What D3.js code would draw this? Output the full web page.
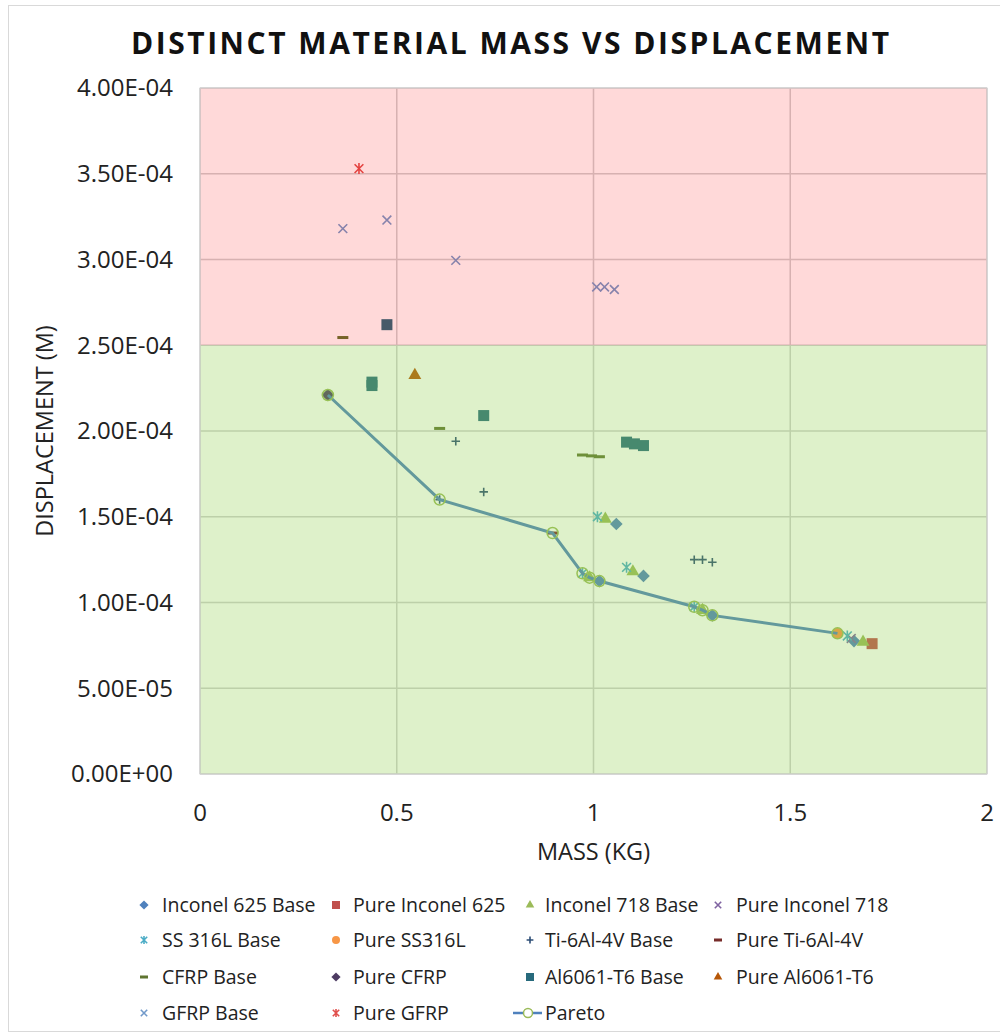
<!DOCTYPE html>
<html>
<head>
<meta charset="utf-8">
<script src="https://cdn.jsdelivr.net/npm/d3@7"></script>
<style>
  body { margin: 0; background: #fff; }
  svg { display: block; font-family: "Open Sans", sans-serif; }
</style>
</head>
<body>
<svg id="chart" width="1000" height="1033"></svg>
<script>
// values: [mass (kg), displacement (m)]
var inconel625Base = [[1.058, 1.458e-4], [1.127, 1.155e-4], [1.015, 1.125e-4], [1.302, 0.925e-4], [1.662, 0.775e-4]];
var pureInconel625 = [[1.708, 0.76e-4]];
var inconel718Base = [[1.030, 1.487e-4], [1.100, 1.18e-4], [0.990, 1.145e-4], [1.277, 0.955e-4], [1.685, 0.77e-4]];
var pureInconel718 = [[1.655, 0.79e-4]];
var ss316lBase = [[1.010, 1.50e-4], [1.084, 1.205e-4], [0.972, 1.17e-4], [1.256, 0.975e-4], [1.645, 0.805e-4]];
var pureSs316l = [[1.620, 0.82e-4]];
var tiBase = [[0.650, 1.94e-4], [0.721, 1.645e-4], [0.609, 1.60e-4], [1.256, 1.25e-4], [1.277, 1.25e-4], [1.302, 1.235e-4]];
var pureTi = [[0.896, 1.405e-4]];
var cfrpBase = [[0.363, 2.545e-4], [0.609, 2.015e-4], [0.972, 1.86e-4], [0.995, 1.855e-4], [1.015, 1.85e-4]];
var pureCfrp = [[0.325, 2.21e-4]];
var alBase = [[0.475, 2.62e-4], [0.437, 2.285e-4], [0.437, 2.265e-4], [0.721, 2.09e-4], [1.084, 1.935e-4], [1.104, 1.925e-4], [1.127, 1.915e-4]];
var pureAl = [[0.546, 2.325e-4]];
var gfrpBase = [[0.363, 3.18e-4], [0.475, 3.23e-4], [0.650, 2.995e-4], [1.008, 2.84e-4], [1.028, 2.84e-4], [1.053, 2.825e-4]];
var pureGfrp = [[0.404, 3.53e-4]];
var pareto = [[0.325, 2.21e-4], [0.609, 1.60e-4], [0.896, 1.405e-4], [0.972, 1.17e-4], [0.990, 1.145e-4], [1.015, 1.125e-4],
              [1.256, 0.975e-4], [1.277, 0.955e-4], [1.302, 0.925e-4], [1.620, 0.82e-4]];

var xTicks = [0, 0.5, 1, 1.5, 2];
var yTicks = [0, 0.5e-4, 1e-4, 1.5e-4, 2e-4, 2.5e-4, 3e-4, 3.5e-4, 4e-4];
var limit = 2.5e-4;

var series = [
    {name: "Inconel 625 Base", data: inconel625Base, shape: "diamond", color: "#4f81bd"},
    {name: "Pure Inconel 625", data: pureInconel625, shape: "square", color: "#c0504d"},
    {name: "Inconel 718 Base", data: inconel718Base, shape: "triangle", color: "#9bbb59"},
    {name: "Pure Inconel 718", data: pureInconel718, shape: "x", color: "#8064a2"},
    {name: "SS 316L Base", data: ss316lBase, shape: "star", color: "#4bacc6"},
    {name: "Pure SS316L", data: pureSs316l, shape: "circle", color: "#f79646"},
    {name: "Ti-6Al-4V Base", data: tiBase, shape: "plus", color: "#2c4d75"},
    {name: "Pure Ti-6Al-4V", data: pureTi, shape: "dash", color: "#772c2a"},
    {name: "CFRP Base", data: cfrpBase, shape: "dash", color: "#5f7530"},
    {name: "Pure CFRP", data: pureCfrp, shape: "diamond", color: "#4d3b62"},
    {name: "Al6061-T6 Base", data: alBase, shape: "square", color: "#276a7c"},
    {name: "Pure Al6061-T6", data: pureAl, shape: "triangle", color: "#b65708"},
    {name: "GFRP Base", data: gfrpBase, shape: "x", color: "#729aca"},
    {name: "Pure GFRP", data: pureGfrp, shape: "star", color: "#e0504d"}
];

var svg = d3.select("#chart");
var margin = {top: 88, right: 13, bottom: 259, left: 200};
var width = 1000 - margin.left - margin.right;
var height = 1033 - margin.top - margin.bottom;

// chart frame
svg.append("rect").attr("x", 8.5).attr("y", 5.5).attr("width", 1000).attr("height", 1026)
    .attr("fill", "none").attr("stroke", "#d9d9d9");

var x = d3.scaleLinear().domain([0, 2]).range([0, width]);
var y = d3.scaleLinear().domain([0, 4e-4]).range([height, 0]);

var g = svg.append("g").attr("transform", "translate(" + margin.left + "," + margin.top + ")");

g.selectAll(".vgrid").data(xTicks).enter().append("line")
    .attr("x1", function(d) { return x(d); }).attr("x2", function(d) { return x(d); })
    .attr("y1", 0).attr("y2", height)
    .attr("stroke", "#d0d0d0").attr("stroke-width", 1.5);
g.selectAll(".hgrid").data(yTicks).enter().append("line")
    .attr("x1", 0).attr("x2", width)
    .attr("y1", function(d) { return y(d); }).attr("y2", function(d) { return y(d); })
    .attr("stroke", "#d0d0d0").attr("stroke-width", 1.5);

// marker drawing
function drawMarker(sel, shape, color, s) {
    var h = s / 2;
    if (shape === "diamond") {
        var r = h * 1.15;
        sel.append("path").attr("d", "M0," + -r + "L" + r + ",0L0," + r + "L" + -r + ",0Z").attr("fill", color);
    } else if (shape === "square") {
        sel.append("rect").attr("x", -h).attr("y", -h).attr("width", s).attr("height", s).attr("fill", color);
    } else if (shape === "triangle") {
        sel.append("path").attr("d", d3.symbol(d3.symbolTriangle, s * s * 0.5)()).attr("fill", color);
    } else if (shape === "circle") {
        sel.append("circle").attr("r", h).attr("fill", color);
    } else if (shape === "x") {
        var a = h * 0.8;
        sel.append("path").attr("d", "M" + -a + "," + -a + "L" + a + "," + a + "M" + -a + "," + a + "L" + a + "," + -a)
            .attr("stroke", color).attr("stroke-width", 1.6).attr("fill", "none");
    } else if (shape === "star") {
        var b = h * 0.8;
        sel.append("path").attr("d", "M" + -b + "," + -b + "L" + b + "," + b + "M" + -b + "," + b + "L" + b + "," + -b +
            "M0," + -h + "L0," + h)
            .attr("stroke", color).attr("stroke-width", 1.6).attr("fill", "none");
    } else if (shape === "plus") {
        var c = h * 0.85;
        sel.append("path").attr("d", "M" + -c + ",0L" + c + ",0M0," + -c + "L0," + c)
            .attr("stroke", color).attr("stroke-width", 1.6).attr("fill", "none");
    } else if (shape === "dash") {
        sel.append("rect").attr("x", -h).attr("y", -1.5).attr("width", s).attr("height", 3).attr("fill", color);
    }
}

var sizes = {diamond: 11, square: 11, triangle: 12, circle: 11, x: 11, star: 11, plus: 10, dash: 11};

series.forEach(function(serie) {
    var sg = g.append("g").attr("class", "serie");
    serie.data.forEach(function(d) {
        var m = sg.append("g").attr("transform", "translate(" + x(d[0]) + "," + y(d[1]) + ")");
        drawMarker(m, serie.shape, serie.color, sizes[serie.shape]);
    });
});

// pareto front
var line = d3.line().x(function(d) { return x(d[0]); }).y(function(d) { return y(d[1]); });
g.append("path").datum(pareto).attr("d", line)
    .attr("fill", "none").attr("stroke", "#4f81bd").attr("stroke-width", 3);
g.selectAll(".pareto-pt").data(pareto).enter().append("circle")
    .attr("cx", function(d) { return x(d[0]); }).attr("cy", function(d) { return y(d[1]); })
    .attr("r", 5.5).attr("fill", "none").attr("stroke", "#9bbb59").attr("stroke-width", 1.5);

// coloured zones laid over the plot
g.append("rect").attr("x", 0).attr("y", 0).attr("width", width).attr("height", y(limit))
    .attr("fill", "#ff0000").attr("fill-opacity", 0.15);
g.append("rect").attr("x", 0).attr("y", y(limit)).attr("width", width).attr("height", height - y(limit))
    .attr("fill", "#92d050").attr("fill-opacity", 0.3);
g.append("rect").attr("x", 0).attr("y", 0).attr("width", width).attr("height", height)
    .attr("fill", "none").attr("stroke", "#d0d0d0").attr("stroke-width", 1);

// axis labels
function expFmt(v) {
    return v.toExponential(2).toUpperCase().replace(/E([+-])(\d)$/, "E$10$2");
}
g.selectAll(".ylab").data(yTicks).enter().append("text")
    .attr("x", -27).attr("y", function(d) { return y(d); }).attr("dy", "0.35em")
    .attr("text-anchor", "end").attr("font-size", 24).attr("fill", "#222")
    .text(expFmt);
g.selectAll(".xlab").data(xTicks).enter().append("text")
    .attr("x", function(d) { return x(d); }).attr("y", height + 39).attr("dy", "0.35em")
    .attr("text-anchor", "middle").attr("font-size", 24).attr("fill", "#222")
    .text(function(d) { return d; });

svg.append("text").attr("x", 510).attr("y", 54).attr("text-anchor", "middle")
    .attr("font-size", 30).attr("font-weight", "bold").attr("fill", "#111")
    .attr("textLength", 758).attr("lengthAdjust", "spacing")
    .text("DISTINCT MATERIAL MASS VS DISPLACEMENT");
svg.append("text").attr("x", margin.left + width / 2).attr("y", 852).attr("dy", "0.35em")
    .attr("text-anchor", "middle").attr("font-size", 23.5).attr("fill", "#222")
    .text("MASS (KG)");
svg.append("text").attr("transform", "translate(45," + (margin.top + height / 2) + ") rotate(-90)")
    .attr("dy", "0.35em").attr("text-anchor", "middle").attr("font-size", 23.5).attr("fill", "#222")
    .text("DISPLACEMENT (M)");

// legend
var colMarker = [144, 336, 530, 718];
var colText = [162, 353, 545, 736];
var rowY = [905, 940, 977, 1013];
var legendItems = series.map(function(s) { return s; }).concat([{name: "Pareto", shape: "pareto"}]);

legendItems.forEach(function(item, i) {
    var col = i % 4, row = Math.floor(i / 4);
    var lg = svg.append("g");
    if (item.shape === "pareto") {
        lg.append("line").attr("x1", 513).attr("x2", 542).attr("y1", rowY[row]).attr("y2", rowY[row])
            .attr("stroke", "#4f81bd").attr("stroke-width", 2.5);
        lg.append("circle").attr("cx", 528).attr("cy", rowY[row]).attr("r", 4.5)
            .attr("fill", "#fff").attr("stroke", "#9bbb59").attr("stroke-width", 1.5);
    } else {
        var m = lg.append("g").attr("transform", "translate(" + colMarker[col] + "," + rowY[row] + ")");
        drawMarker(m, item.shape, item.color, 8);
    }
    lg.append("text").attr("x", colText[col]).attr("y", rowY[row]).attr("dy", "0.35em")
        .attr("font-size", 19.5).attr("fill", "#222").text(item.name);
});
</script>
</body>
</html>
